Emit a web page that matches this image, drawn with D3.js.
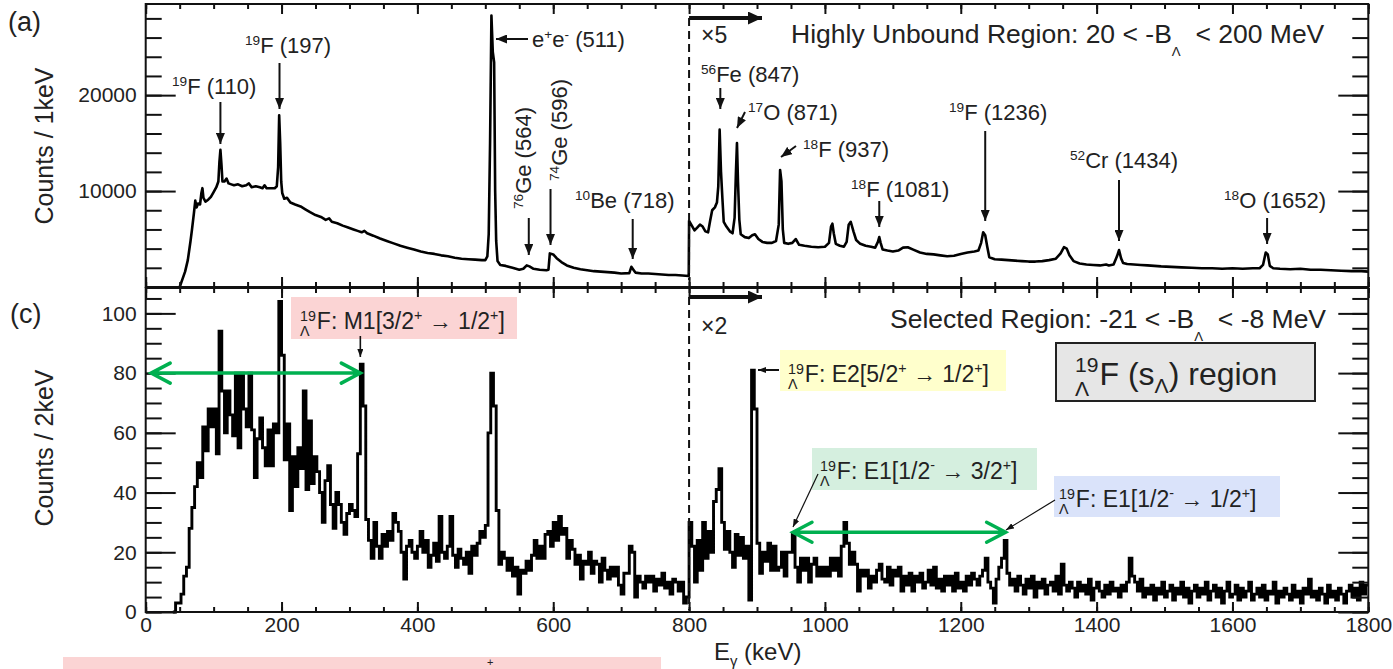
<!DOCTYPE html>
<meta charset="utf-8">
<style>
    body { margin: 0; background: #fff; }
    svg text { font-family: "Liberation Sans", Arial, sans-serif; fill: #222; white-space: pre; }
</style>
<body>
<svg id="chart" width="1393" height="669"></svg>
</body>
<script src="https://d3js.org/d3.v7.min.js"></script>
<script>

    // (a) highly unbound region, counts / 1 keV ; above 800 keV drawn x5
    var unbound = [
        [50, 0], [54, 800], [58, 1600], [62, 2800], [66, 4800], [68, 5900], [71, 7700], [73, 9000],
        [75, 8300], [77, 8700], [80, 8600], [82, 9800], [83.5, 10300], [85, 9300], [88, 8900], [92, 9100],
        [96, 9400], [100, 9900], [104, 10400], [107, 11000], [108.5, 13000], [110, 14300], [111.5, 12800],
        [113, 11000], [116, 11000], [119, 11300], [122, 10800], [126, 10700], [130, 10600], [136, 10700],
        [142, 10500], [148, 10600], [152, 10800], [156, 10400], [162, 10500], [168, 10400], [172, 10300],
        [175, 10600], [178, 10300], [184, 10300], [190, 10300], [193, 10500], [195, 12500], [196.5, 17900],
        [198, 15000], [199.5, 11000], [201, 9800], [204, 9200], [208, 9300], [213, 8800], [220, 8600],
        [228, 8400], [235, 8100], [242, 7800], [250, 7500], [258, 7300], [265, 7000], [270, 7150],
        [274, 6800], [282, 6650], [290, 6400], [298, 6200], [306, 6000], [312, 5850], [318, 5700],
        [322, 5850], [326, 5600], [335, 5350], [345, 5050], [355, 4800], [365, 4550], [375, 4300],
        [385, 4100], [395, 3900], [405, 3700], [415, 3550], [425, 3450], [435, 3300], [445, 3200],
        [455, 3050], [465, 2950], [475, 2900], [485, 2850], [495, 2800], [500, 2800], [503, 3200],
        [505, 5500], [507, 15000], [509, 28300], [511, 24500], [513, 23400], [514.5, 10000], [516, 4800],
        [518, 2700], [522, 2300], [530, 2200], [540, 2000], [550, 1800], [556, 1900], [561, 2250],
        [565, 2150], [571, 1900], [580, 1800], [590, 1750], [593, 1800], [595, 3500], [600, 3400],
        [605, 3000], [612, 2600], [620, 2250], [630, 2000], [640, 1850], [650, 1750], [660, 1650],
        [670, 1600], [680, 1550], [690, 1500], [700, 1400], [712, 1450], [715, 2100], [718, 1800],
        [721, 1500], [730, 1400], [740, 1400], [750, 1350], [760, 1300], [770, 1250], [780, 1250],
        [790, 1200], [799.5, 1150],
        [800, 6900], [804, 6400], [808, 5900], [812, 6200], [816, 6500], [820, 6300], [824, 5800],
        [828, 5700], [831, 6900], [834, 8000], [838, 8300], [841, 8800], [843, 10500], [845, 16400],
        [847, 12000], [849, 9300], [851, 6800], [855, 6300], [860, 5800], [864, 5600], [867, 7200],
        [869, 12000], [870.5, 15000], [872, 11000], [874, 7000], [876, 5500], [882, 5200], [888, 5100],
        [893, 5400], [897, 5500], [902, 5000], [908, 4700], [915, 4600], [922, 4600], [928, 4800],
        [932, 6500], [934, 12200], [936, 11000], [938, 6000], [940, 4600], [946, 4500], [952, 4600],
        [957, 5000], [962, 4400], [970, 4300], [980, 4200], [990, 4150], [1000, 4200], [1006, 4600],
        [1009, 6300], [1011, 6600], [1013, 5600], [1016, 4500], [1022, 4300], [1028, 4200], [1032, 4700],
        [1035, 6500], [1038, 6800], [1042, 5800], [1046, 4900], [1052, 4500], [1060, 4300], [1068, 4200],
        [1074, 4100], [1078, 4700], [1080, 5200], [1082, 4600], [1085, 3900], [1092, 3800], [1100, 3700],
        [1108, 3800], [1115, 4100], [1122, 4150], [1130, 3900], [1140, 3600], [1150, 3450], [1160, 3400],
        [1170, 3300], [1180, 3200], [1190, 3250], [1200, 3450], [1210, 3600], [1220, 3700], [1226, 3800],
        [1230, 4600], [1233, 5700], [1236, 5400], [1239, 4200], [1242, 3100], [1250, 2900], [1260, 2850],
        [1270, 2800], [1280, 2750], [1290, 2700], [1300, 2650], [1310, 2650], [1320, 2700], [1330, 2800],
        [1340, 2950], [1347, 3500], [1352, 4150], [1356, 4000], [1360, 3300], [1366, 2700], [1375, 2450],
        [1385, 2350], [1395, 2300], [1405, 2250], [1414, 2350], [1418, 2250], [1425, 2350], [1430, 3200],
        [1433, 3850], [1436, 3000], [1439, 2500], [1445, 2400], [1455, 2350], [1465, 2300], [1475, 2250],
        [1485, 2200], [1495, 2150], [1510, 2100], [1525, 2050], [1540, 2000], [1555, 1950], [1570, 1950],
        [1585, 1900], [1600, 1950], [1615, 1900], [1630, 1950], [1640, 1950], [1645, 2300], [1649, 3600],
        [1652, 3400], [1655, 2200], [1660, 1950], [1670, 1900], [1685, 1850], [1700, 1900], [1715, 1800],
        [1730, 1800], [1745, 1750], [1760, 1700], [1775, 1650], [1790, 1650], [1800, 1600]
    ];

    // (c) selected region, counts / 2 keV, read in 4 keV bins starting at 40 keV ; above 800 keV drawn x2
    var selStart = 40, selWidth = 4;
    var selected = [
        0, 3, 3, 6, 12, 15, 28, 35, 42, 50,
        45, 62, 54, 68, 62, 68, 53, 94, 74, 60,
        74, 66, 59, 80, 55, 80, 68, 62, 80, 61,
        45, 58, 65, 55, 49, 61, 49, 63, 60, 104,
        86, 51, 63, 34, 52, 42, 55, 48, 74, 41,
        64, 43, 52, 47, 40, 30, 44, 49, 36, 28,
        40, 36, 30, 26, 33, 36, 34, 32, 53, 83,
        69, 31, 24, 18, 30, 22, 18, 26, 22, 27,
        24, 33, 30, 27, 20, 11, 22, 24, 20, 18,
        22, 27, 20, 24, 15, 19, 23, 17, 32, 20,
        18, 22, 32, 19, 15, 21, 18, 16, 20, 13,
        22, 19, 23, 27, 25, 29, 60, 80, 69, 34,
        16, 20, 18, 14, 18, 12, 15, 6, 14, 13,
        17, 14, 19, 24, 18, 22, 18, 26, 27, 22,
        30, 24, 32, 26, 28, 18, 24, 21, 16, 19,
        11, 17, 16, 20, 13, 17, 16, 10, 18, 14,
        11, 15, 12, 15, 9, 6, 13, 13, 22, 20,
        5, 12, 10, 8, 12, 10, 12, 7, 11, 9,
        13, 8, 10, 6, 11, 10, 7, 10, 3, 5,
        30, 22, 10, 24, 14, 30, 18, 27, 20, 37,
        41, 48, 30, 21, 27, 20, 15, 26, 19, 25,
        18, 22, 4, 81, 68, 23, 13, 20, 17, 23,
        14, 22, 14, 15, 20, 12, 20, 20, 26, 15,
        10, 18, 14, 18, 10, 16, 18, 12, 15, 12,
        15, 12, 18, 14, 18, 12, 22, 30, 23, 16,
        20, 16, 7, 14, 12, 14, 8, 12, 10, 14,
        16, 11, 10, 15, 9, 14, 12, 15, 7, 12,
        9, 13, 7, 12, 10, 13, 8, 10, 14, 9,
        15, 8, 11, 7, 12, 9, 12, 7, 13, 8,
        10, 7, 12, 9, 13, 11, 9, 12, 14, 18,
        10, 8, 3, 11, 15, 18, 24, 13, 9, 11,
        7, 12, 9, 6, 11, 8, 12, 5, 10, 8,
        11, 6, 9, 10, 7, 12, 6, 16, 9, 7,
        10, 8, 5, 10, 7, 9, 6, 11, 4, 8,
        10, 7, 5, 9, 6, 10, 7, 8, 5, 9,
        7, 10, 18, 12, 10, 7, 11, 5, 8, 6,
        9, 4, 8, 6, 10, 5, 7, 9, 4, 8,
        6, 10, 5, 8, 3, 7, 9, 5, 8, 6,
        10, 4, 7, 9, 5, 8, 3, 7, 10, 5,
        6, 9, 4, 8, 5, 7, 10, 4, 6, 8,
        5, 9, 4, 7, 6, 10, 3, 7, 5, 8,
        6, 4, 9, 5, 7, 3, 8, 6, 11, 5,
        7, 4, 8, 6, 3, 9, 5, 7, 4, 8,
        6, 3, 7, 9, 5, 8, 4, 10, 6, 9
    ];

    var xTicks = [0, 200, 400, 600, 800, 1000, 1200, 1400, 1600, 1800];
    var yTicksA = [10000, 20000];
    var yTicksC = [0, 20, 40, 60, 80, 100];
    // green double arrows: [from keV, to keV, level]
    var spanArrows = [[8, 316, 80], [953, 1266, 26.7]];

    var FONT = '"Liberation Sans", Arial, sans-serif';
    var svg = d3.select("#chart");

    var x = d3.scaleLinear().domain([0, 1800]).range([145.7, 1368.3]);
    var yA = d3.scaleLinear().domain([0, 29500]).range([287, 4]);
    var yC = d3.scaleLinear().domain([0, 108.5]).range([612, 288]);

    var defs = svg.append("defs");
    function marker(id, len, wid) {
        defs.append("marker").attr("id", id)
            .attr("markerUnits", "userSpaceOnUse")
            .attr("viewBox", "0 0 " + len + " " + wid)
            .attr("refX", len).attr("refY", wid / 2)
            .attr("markerWidth", len).attr("markerHeight", wid)
            .attr("orient", "auto")
            .append("path").attr("d", "M0,0L" + len + "," + (wid / 2) + "L0," + wid + "Z").attr("fill", "#111");
    }
    marker("head", 11, 9);
    marker("headS", 8, 6);
    marker("headF", 14, 13);

    function arrow(x1, y1, x2, y2, w, m) {
        svg.append("line").attr("x1", x1).attr("y1", y1).attr("x2", x2).attr("y2", y2)
            .attr("stroke", "#111").attr("stroke-width", w)
            .attr("marker-end", "url(#" + m + ")");
    }

    // text with super/subscripts; tokens: "^x" sup, "_x" sub, ",x" low sub, [sup, sub] stacked prescript
    function rich(x0, y0, tokens, size, rot, ratio, up, down) {
        ratio = ratio || 0.62;
        up = up || 0.36;
        down = down || 0.3;
        var g = svg.append("g").attr("transform", "translate(" + x0 + "," + y0 + ")" + (rot ? " rotate(" + rot + ")" : ""));
        var cx = 0;
        function put(str, fs, dy) {
            var t = g.append("text").attr("x", cx).attr("y", dy).attr("xml:space", "preserve")
                .style("font-size", fs + "px").text(str);
            return t.node().getComputedTextLength();
        }
        tokens.forEach(function (tk) {
            var s = size * ratio;
            if (Array.isArray(tk)) {
                var w = put(tk[0], s, -size * up);
                if (tk[1]) w = Math.max(w, put(tk[1], s, size * down));
                cx += w + 1;
            } else if (tk[0] === "^") cx += put(tk.slice(1), s, -size * 0.38);
            else if (tk[0] === "_") cx += put(tk.slice(1), s, size * 0.25);
            else if (tk[0] === ",") cx += put(tk.slice(1), size * 0.5, size * 0.5);
            else cx += put(tk, size, 0);
        });
        return g;
    }

    // ---------- spectra ----------
    svg.append("path")
        .datum(unbound)
        .attr("d", d3.line().x(function (d) { return x(d[0]); }).y(function (d) { return yA(d[1]); }))
        .attr("fill", "none").attr("stroke", "#000").attr("stroke-width", 2.6).attr("stroke-linejoin", "round");

    var selPts = selected.map(function (v, i) { return [selStart + i * selWidth, v]; });
    selPts.push([1800, selected[selected.length - 1]]);
    svg.append("path")
        .datum(selPts)
        .attr("d", d3.line().curve(d3.curveStepAfter).x(function (d) { return x(d[0]); }).y(function (d) { return yC(d[1]); }))
        .attr("fill", "none").attr("stroke", "#000").attr("stroke-width", 2.9);

    // ---------- axes / frames ----------
    function panelAxes(y, yMajor, yMinor, labelX) {
        var x0 = x.range()[0], x1 = x.range()[1], yb = y.range()[0], yt = y.range()[1];
        var xMinor = d3.range(0, 1801, 50);
        var ax = svg.append("g");
        ax.append("g").attr("transform", "translate(0," + yb + ")")
            .call(d3.axisBottom(x).tickValues(xMinor).tickSize(-5).tickFormat(""));
        ax.append("g").attr("transform", "translate(0," + yb + ")")
            .call(d3.axisBottom(x).tickValues(xTicks).tickSize(-10).tickPadding(5)
                .tickFormat(labelX ? d3.format("d") : ""));
        ax.append("g").attr("transform", "translate(0," + yt + ")")
            .call(d3.axisTop(x).tickValues(xMinor).tickSize(-5).tickFormat(""));
        ax.append("g").attr("transform", "translate(0," + yt + ")")
            .call(d3.axisTop(x).tickValues(xTicks).tickSize(-10).tickFormat(""));
        ax.append("g").attr("transform", "translate(" + x0 + ",0)")
            .call(d3.axisLeft(y).tickValues(yMinor).tickSize(-16).tickFormat(""));
        ax.append("g").attr("transform", "translate(" + x0 + ",0)")
            .call(d3.axisLeft(y).tickValues(yMajor).tickSize(-30).tickPadding(9).tickFormat(d3.format("d")));
        ax.append("g").attr("transform", "translate(" + x1 + ",0)")
            .call(d3.axisRight(y).tickValues(yMinor).tickSize(-16).tickFormat(""));
        ax.append("g").attr("transform", "translate(" + x1 + ",0)")
            .call(d3.axisRight(y).tickValues(yMajor).tickSize(-30).tickFormat(""));
        ax.selectAll(".domain").remove();
        ax.selectAll(".tick line").attr("stroke", "#111").attr("stroke-width", 2);
        ax.selectAll(".tick text").attr("fill", "#222")
            .style("font-size", "21px").style("font-family", FONT);
        svg.append("rect").attr("x", x0).attr("y", yt).attr("width", x1 - x0).attr("height", yb - yt)
            .attr("fill", "none").attr("stroke", "#111").attr("stroke-width", 2);
    }
    panelAxes(yA, yTicksA, d3.range(0, 28001, 2000), false);
    panelAxes(yC, yTicksC, d3.range(0, 106, 5), true);

    // dashed split at 800 keV and scale arrows
    svg.append("line").attr("x1", x(800)).attr("x2", x(800)).attr("y1", 18).attr("y2", 280)
        .attr("stroke", "#111").attr("stroke-width", 2).attr("stroke-dasharray", "8,5");
    svg.append("line").attr("x1", x(800)).attr("x2", x(800)).attr("y1", 297).attr("y2", 610)
        .attr("stroke", "#111").attr("stroke-width", 2).attr("stroke-dasharray", "8,5");
    arrow(x(800), 18, 762, 18, 4, "headF");
    arrow(x(800), 297, 762, 297, 4, "headF");

    // ---------- titles ----------
    svg.append("text").attr("x", 8).attr("y", 31).style("font-size", "27px").text("(a)");
    svg.append("text").attr("x", 10).attr("y", 323).style("font-size", "27px").text("(c)");
    svg.append("text").attr("transform", "translate(53,146) rotate(-90)").attr("text-anchor", "middle")
        .style("font-size", "25px").text("Counts / 1keV");
    svg.append("text").attr("transform", "translate(53,448) rotate(-90)").attr("text-anchor", "middle")
        .style("font-size", "25px").text("Counts / 2keV");
    rich(714, 660, ["E", "_γ", " (keV)"], 24);

    // ---------- panel (a) annotations ----------
    rich(172, 94, ["^19", "F (110)"], 22);
    arrow(x(110), 102, x(110), 144, 2, "head");
    rich(245, 53, ["^19", "F (197)"], 22);
    arrow(x(197), 63, x(197), 109, 2, "head");
    rich(532, 47, ["e", "^+", "e", "^-", " (511)"], 22);
    arrow(528, 39, 496, 39, 2, "head");
    rich(531, 209, ["^76", "Ge (564)"], 22, -90);
    arrow(x(564), 218, x(564), 255, 2, "head");
    rich(567, 181, ["^74", "Ge (596)"], 22, -90);
    arrow(x(596), 189, x(596), 245, 2, "head");
    rich(575, 208, ["^10", "Be (718)"], 22);
    arrow(x(717), 219, x(717), 259, 2, "head");

    svg.append("text").attr("x", 701).attr("y", 43).style("font-size", "23px").text("\u00d75");
    rich(791, 43, ["Highly Unbound Region: 20 < -B", ",\u039b", "  < 200 MeV"], 26.5);

    rich(701, 82, ["^56", "Fe (847)"], 22);
    arrow(x(846), 88, x(846), 109, 2, "head");
    rich(748, 120, ["^17", "O (871)"], 22);
    arrow(745, 112, 737, 128, 2, "head");
    rich(803, 157, ["^18", "F (937)"], 22);
    arrow(796, 146, 781, 157, 2, "head");
    rich(851, 197, ["^18", "F (1081)"], 22);
    arrow(x(1080), 201, x(1080), 227, 2, "head");
    rich(949, 120, ["^19", "F (1236)"], 22);
    arrow(x(1236), 131, x(1236), 221, 2, "head");
    rich(1070, 168, ["^52", "Cr (1434)"], 22);
    arrow(x(1433), 180, x(1433), 241, 2, "head");
    rich(1224, 208, ["^18", "O (1652)"], 22);
    arrow(x(1651), 218, x(1651), 244, 2, "head");

    // ---------- panel (c) annotations ----------
    svg.append("text").attr("x", 701).attr("y", 334).style("font-size", "23px").text("\u00d72");
    rich(890, 328, ["Selected Region: -21 < -B", ",\u039b", "  < -8 MeV"], 26.5);

    function box(x0, y0, w, h, fill, stroke) {
        svg.append("rect").attr("x", x0).attr("y", y0).attr("width", w).attr("height", h)
            .attr("fill", fill).attr("stroke", stroke || "none").attr("stroke-width", stroke ? 2 : 0);
    }
    box(291, 297, 226, 42, "#fbd4d4");
    rich(300, 329, [["19", "\u039b"], "F: M1[3/2", "^+", " \u2192 1/2", "^+", "]"], 23);
    arrow(x(316), 336, x(316), 357, 1.6, "headS");

    box(780, 350, 226, 41, "#ffffcc");
    rich(788, 382, [["19", "\u039b"], "F: E2[5/2", "^+", " \u2192 1/2", "^+", "]"], 23);
    arrow(779, 370, 758, 370, 2, "headS");

    box(812, 448, 225, 42, "#d5efdf");
    rich(820, 479, [["19", "\u039b"], "F: E1[1/2", "^-", " \u2192 3/2", "^+", "]"], 23);
    arrow(818, 474, 793, 527, 1.2, "headS");

    box(1054, 476, 226, 41, "#dae3fa");
    rich(1059, 507, [["19", "\u039b"], "F: E1[1/2", "^-", " \u2192 1/2", "^+", "]"], 23);
    arrow(1055, 500, 1006, 530, 1.2, "headS");

    box(1056, 343, 259, 58, "#e6e6e6", "#222");
    rich(1075, 385, [["19", "\u039b"], "F (s", "_\u039b", ") region"], 32, 0, 0.66, 0.42, 0.34);

    spanArrows.forEach(function (a) {
        var xa = x(a[0]), xb = x(a[1]), yy = yC(a[2]);
        var p = "M" + xa + "," + yy + "H" + xb +
            "M" + (xa + 19) + "," + (yy - 10) + "L" + xa + "," + yy + "L" + (xa + 19) + "," + (yy + 10) +
            "M" + (xb - 19) + "," + (yy - 10) + "L" + xb + "," + yy + "L" + (xb - 19) + "," + (yy + 10);
        svg.append("path").attr("d", p).attr("fill", "none").attr("stroke", "#00b050")
            .attr("stroke-width", 3.5).attr("stroke-linecap", "round");
    });

    // cut-off caption box at the very bottom
    box(63, 657, 598, 14, "#fbd4d4");
    svg.append("text").attr("x", 487).attr("y", 666).style("font-size", "11px").text("+");

</script>
